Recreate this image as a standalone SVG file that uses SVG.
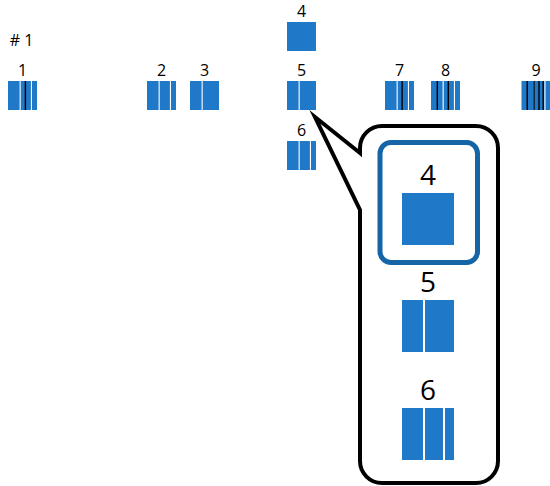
<svg xmlns="http://www.w3.org/2000/svg" width="550" height="486" viewBox="0 0 550 486">
<style>
text{font-family:"Open Sans","Noto Sans","Liberation Sans",sans-serif;fill:#000;text-anchor:middle}
.s{font-size:16px}
.b{font-size:28px}
.blue{fill:#2078c8}
.ln{fill:#000}
</style>
<defs>
<g id="tri"><rect class="blue" x="0" y="0" width="11.6" height="29"/><rect class="blue" x="12.7" y="0" width="10.2" height="29"/><rect class="blue" x="24" y="0" width="5" height="29"/></g>
<g id="duo"><rect class="blue" x="0" y="0" width="11.6" height="29"/><rect class="blue" x="12.7" y="0" width="16.3" height="29"/></g>
</defs>
<rect width="550" height="486" fill="#fff"/>
<text x="21.5" y="45.5" class="s"># 1</text>
<g id="n1"><text class="s" x="22.5" y="76">1</text><use href="#tri" x="8" y="81"/><rect class="ln" x="24.7" y="81" width="1.4" height="29"/></g>
<g id="n2"><text class="s" x="161.5" y="76">2</text><use href="#tri" x="147" y="81"/></g>
<g id="n3"><text class="s" x="204.5" y="76">3</text><use href="#duo" x="190" y="81"/></g>
<g id="n4"><text class="s" x="301.5" y="17">4</text><rect class="blue" x="287" y="22" width="29" height="29"/></g>
<g id="n5"><text class="s" x="301.5" y="76">5</text><use href="#duo" x="287" y="81"/></g>
<g id="n6"><text class="s" x="301.5" y="136">6</text><use href="#tri" x="287" y="141"/></g>
<g id="n7"><text class="s" x="399.5" y="76">7</text><use href="#tri" x="385" y="81"/><rect class="ln" x="401.4" y="81" width="1.4" height="29"/></g>
<g id="n8"><text class="s" x="445.5" y="76">8</text><use href="#tri" x="431" y="81"/><rect class="ln" x="436.6" y="81" width="1.4" height="29"/><rect class="ln" x="447.6" y="81" width="1.4" height="29"/></g>
<g id="n9"><text class="s" x="536" y="76">9</text><use href="#tri" x="521.5" y="81"/><rect class="ln" x="526.5" y="81" width="1.4" height="29"/><rect class="ln" x="533.3" y="81" width="1.4" height="29"/><rect class="ln" x="538.3" y="81" width="1.4" height="29"/><rect class="ln" x="542.5" y="81" width="1.4" height="29"/></g>
<g id="callout">
<path d="M360,153 L315,117 L360,210 L360,461 A22,22 0 0 0 382,483 L476,483 A22,22 0 0 0 498,461 L498,148 A22,22 0 0 0 476,126 L382,126 A22,22 0 0 0 360,148 Z" fill="#fff" stroke="#000" stroke-width="4" stroke-linejoin="miter" stroke-miterlimit="20"/>
<rect x="380" y="142.5" width="97.5" height="120" rx="11" fill="none" stroke="#1565a6" stroke-width="5"/>
<text class="b" x="428" y="185">4</text>
<rect class="blue" x="402" y="193" width="52" height="52"/>
<text class="b" x="428" y="292">5</text>
<rect class="blue" x="402" y="300" width="21" height="52"/><rect class="blue" x="425" y="300" width="29" height="52"/>
<text class="b" x="428" y="399.5">6</text>
<rect class="blue" x="402" y="408" width="21" height="52"/><rect class="blue" x="425" y="408" width="18" height="52"/><rect class="blue" x="445" y="408" width="9" height="52"/>
</g>
</svg>
